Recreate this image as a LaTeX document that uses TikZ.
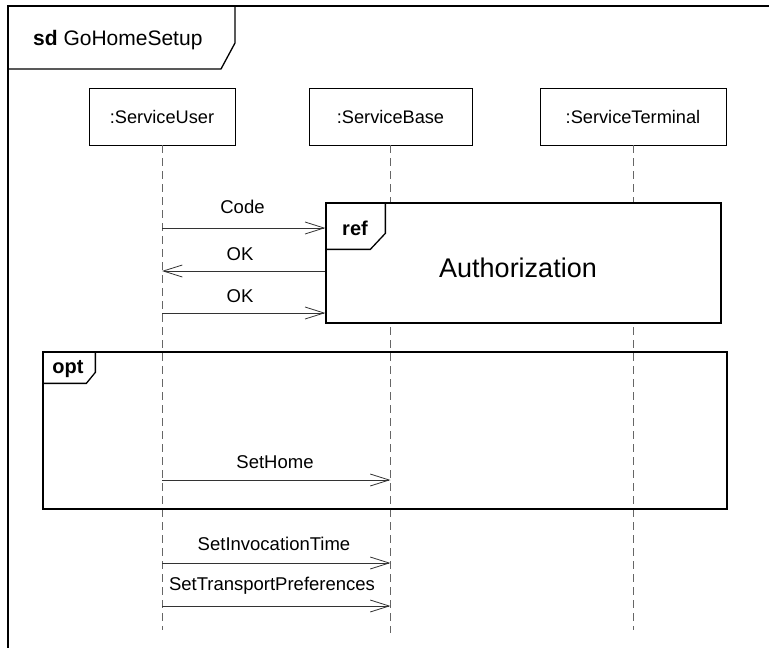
\documentclass[tikz,border=0pt]{standalone}
\usepackage{fontspec}
\setmainfont{Liberation Sans}
\usetikzlibrary{positioning, arrows.meta}

\begin{document}
\begin{tikzpicture}[x=1pt,y=1pt,yscale=-1,xscale=1,
    lifehead/.style={draw, line width=0.9pt, minimum height=57pt, inner sep=0pt, font=\fontsize{18.2}{21}\selectfont},
    lifeline/.style={draw=black!60, dash pattern=on 8pt off 5pt, line width=0.8pt},
    msg/.style={-{Straight Barb[length=19pt,width=12pt]}, line width=0.8pt, draw=black!80},
    msglabel/.style={inner sep=0pt, font=\fontsize{18.5}{21}\selectfont},
    tag/.style={inner sep=0pt, font=\fontsize{20}{24}\selectfont\bfseries},
    frameline/.style={line width=1.3pt}
]
    \path[use as bounding box, clip] (0,0) rectangle (769,648);

    %Frame: sd
    \draw[frameline] (8,660) -- (8,6) -- (790,6);
    \draw[frameline] (8,69) -- (221,69) -- (235,43) -- (235,6);
    \node (title) [inner sep=0pt, anchor=west, font=\fontsize{21}{25}\selectfont] at (33,40) {\textbf{sd} GoHomeSetup};

    %Lifelines
    \node (user) [lifehead, minimum width=146pt] at (162,116.5) {:ServiceUser};
    \node (base) [lifehead, minimum width=163pt] at (390.5,116.5) {:ServiceBase};
    \node (terminal) [lifehead, minimum width=186pt] at (633,116.5) {:ServiceTerminal};
    \coordinate (user end) at (162,630);
    \coordinate (base end) at (390.5,633);
    \coordinate (terminal end) at (633,630);
    \draw[lifeline] (user.south) -- (user end);
    \draw[lifeline] (base.south) -- (base end);
    \draw[lifeline] (terminal.south) -- (terminal end);

    %Frame: ref
    \node (ref) [draw, fill=white, frameline, minimum width=395pt, minimum height=120pt, inner sep=0pt] at (523.5,263) {};
    \draw[frameline] (ref.north west) ++(0,47) -- ++(45,0) -- ++(15,-16) -- ++(0,-31);
    \node (reftag) [tag] at (355,228) {ref};
    \node (auth) [inner sep=0pt, font=\fontsize{27}{31}\selectfont] at (518,268) {Authorization};

    %Messages to ref
    \coordinate (u1) at (162,228);
    \coordinate (u2) at (162,271);
    \coordinate (u3) at (162,313);
    \draw[msg] (u1) -- (u1 -| ref.west);
    \draw[msg] (u2 -| ref.west) -- (u2);
    \draw[msg] (u3) -- (u3 -| ref.west);
    % Text Node
    \node (code) [msglabel] at (242.5,207) {Code};
    % Text Node
    \node (ok1) [msglabel] at (240,254) {OK};
    % Text Node
    \node (ok2) [msglabel] at (240,296) {OK};

    %Frame: opt
    \node (opt) [draw, frameline, minimum width=684pt, minimum height=157pt, inner sep=0pt] at (385,430.5) {};
    \draw[frameline] (opt.north west) ++(0,32) -- ++(44,0) -- ++(9,-11) -- ++(0,-21);
    \node (opttag) [tag] at (68,369) {opt};

    %Messages to base
    \coordinate (u4) at (162,480);
    \coordinate (u5) at (162,563);
    \coordinate (u6) at (162,606);
    \draw[msg] (u4) -- (u4 -| base.south);
    \draw[msg] (u5) -- (u5 -| base.south);
    \draw[msg] (u6) -- (u6 -| base.south);
    % Text Node
    \node (sethome) [msglabel] at (275,462) {SetHome};
    % Text Node
    \node (setinv) [msglabel] at (274,544) {SetInvocationTime};
    % Text Node
    \node (settrans) [msglabel] at (272,586) {SetTransportPreferences};
\end{tikzpicture}
\end{document}
